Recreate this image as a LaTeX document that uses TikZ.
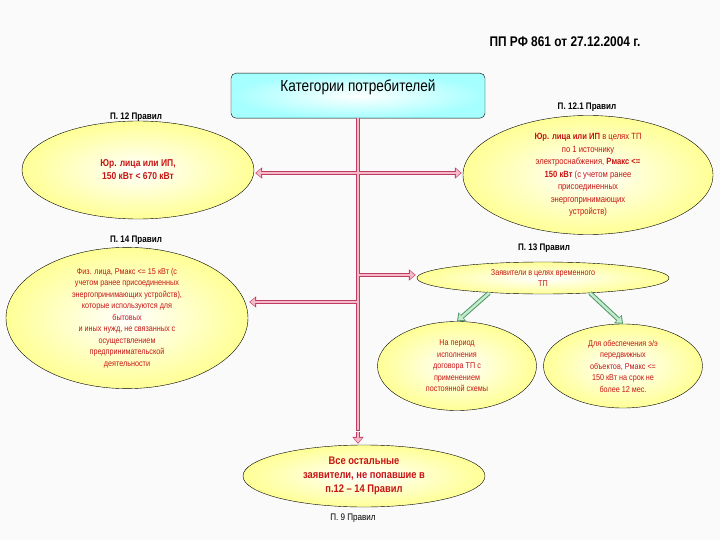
\documentclass[tikz,border=0pt]{standalone}
\usepackage{fontspec}
\setmainfont{Liberation Sans}
\newfontfamily\narrow[FakeStretch=0.85]{Liberation Sans}
\usetikzlibrary{arrows.meta,shapes.geometric}
\definecolor{ell}{RGB}{255,255,150}
\definecolor{redt}{RGB}{200,20,20}
\definecolor{pinka}{RGB}{245,185,200}
\definecolor{pinkb}{RGB}{190,60,100}
\definecolor{greena}{RGB}{195,235,205}
\definecolor{greenb}{RGB}{80,150,100}
\tikzset{
  el/.style n args={2}{ellipse,draw=black,thin,inner color=white,outer color=ell,minimum width=#1,minimum height=#2,align=center,text=redt,font=\narrow\fontsize{8.5}{11.5}\selectfont,inner sep=0pt},
  lbl/.style={font=\narrow\bfseries\fontsize{9.5}{10}\selectfont},
  fat/.style={draw=pinkb,line width=4.5pt,-{Triangle[length=7pt,width=11pt]},shorten >=1pt},
  fatin/.style={draw=pinka,line width=2.5pt,-{Triangle[length=5pt,width=8pt]},shorten >=2pt},
  grn/.style={draw=greenb,line width=4.5pt,-{Triangle[length=7pt,width=11pt]}},
  grnin/.style={draw=greena,line width=2.5pt,-{Triangle[length=5pt,width=8pt]},shorten >=1.5pt},
}
\begin{document}
\begin{tikzpicture}[x=1pt,y=-1pt]
\fill[white!96!gray] (0,0) rectangle (720,540);
\useasboundingbox (0,0) rectangle (720,540);
\node[font=\narrow\bfseries\fontsize{14}{16}\selectfont] (title) at (565,42) {ПП РФ 861 от 27.12.2004 г.};
\node[draw=black,rounded corners=5pt,inner color=white,outer color=cyan!35,minimum width=254pt,minimum height=45pt,font=\narrow\fontsize{16}{18}\selectfont,anchor=north,inner sep=2pt,text depth=20pt] (top) at (358,73) {Категории потребителей};
\coordinate (t0) at (358,118);
\node[lbl] (l12) at (136,117) {П. 12 Правил};
\node[el={232pt}{98pt},font=\narrow\bfseries\fontsize{10}{13}\selectfont] (e1) at (138,170) {Юр. лица или ИП,\\150 кВт < 670 кВт};
\node[lbl] (l121) at (587,107) {П. 12.1 Правил};
\node[el={250pt}{119pt},font=\narrow\fontsize{9}{12.5}\selectfont] (e2) at (588,175) {\textbf{Юр. лица или ИП} в целях ТП\\по 1 источнику\\электроснабжения, \textbf{Рмакс <=}\\\textbf{150 кВт} (с учетом ранее\\присоединенных\\энергопринимающих\\устройств)};
\node[lbl] (l14) at (136,240) {П. 14 Правил};
\node[el={242pt}{130pt}] (e3) at (127,318) {Физ. лица, Рмакс <= 15 кВт (с\\учетом ранее присоединенных\\энергопринимающих устройств),\\которые используются для\\бытовых\\и иных нужд, не связанных с\\осуществлением\\предпринимательской\\деятельности};
\node[lbl] (l13) at (544,248) {П. 13 Правил};
\node[el={252pt}{32pt}] (e4) at (543,278) {Заявители в целях временного\\ТП};
\node[el={159pt}{89pt}] (e5) at (457,366) {На период\\исполнения\\договора ТП с\\применением\\постоянной схемы};
\node[el={159pt}{84pt}] (e6) at (623,366) {Для обеспечения э/э\\передвижных\\объектов, Рмакс <=\\150 кВт на срок не\\более 12 мес.};
\node[el={242pt}{62pt},font=\narrow\bfseries\fontsize{11}{14}\selectfont] (e7) at (364,476) {Все остальные\\заявители, не попавшие в\\п.12 – 14 Правил};
\node[font=\narrow\fontsize{9.5}{10}\selectfont] (l9) at (353,518) {П. 9 Правил};
\coordinate (tb) at (358,432);
\coordinate (j1) at (358,173);
\coordinate (j3) at (358,302);
\coordinate (j4) at (358,275);
\foreach \s in {fat,fatin}{
  \draw[\s,-] (t0) -- (tb);
  \draw[\s] (j1) -- (j1 -| e1.east);
  \draw[\s] (j1) -- (j1 -| e2.west);
  \draw[\s] (j3) -- (j3 -| e3.east);
  \draw[\s] (j4) -- (j4 -| e4.west);
  \draw[\s] (tb) -- (tb |- e7.north);
}
\coordinate (g1) at (489,293);
\coordinate (g2) at (590,293);
\foreach \s in {grn,grnin}{
  \draw[\s] (g1) -- (e5.north);
  \draw[\s] (g2) -- (e6.north);
}
\end{tikzpicture}
\end{document}
